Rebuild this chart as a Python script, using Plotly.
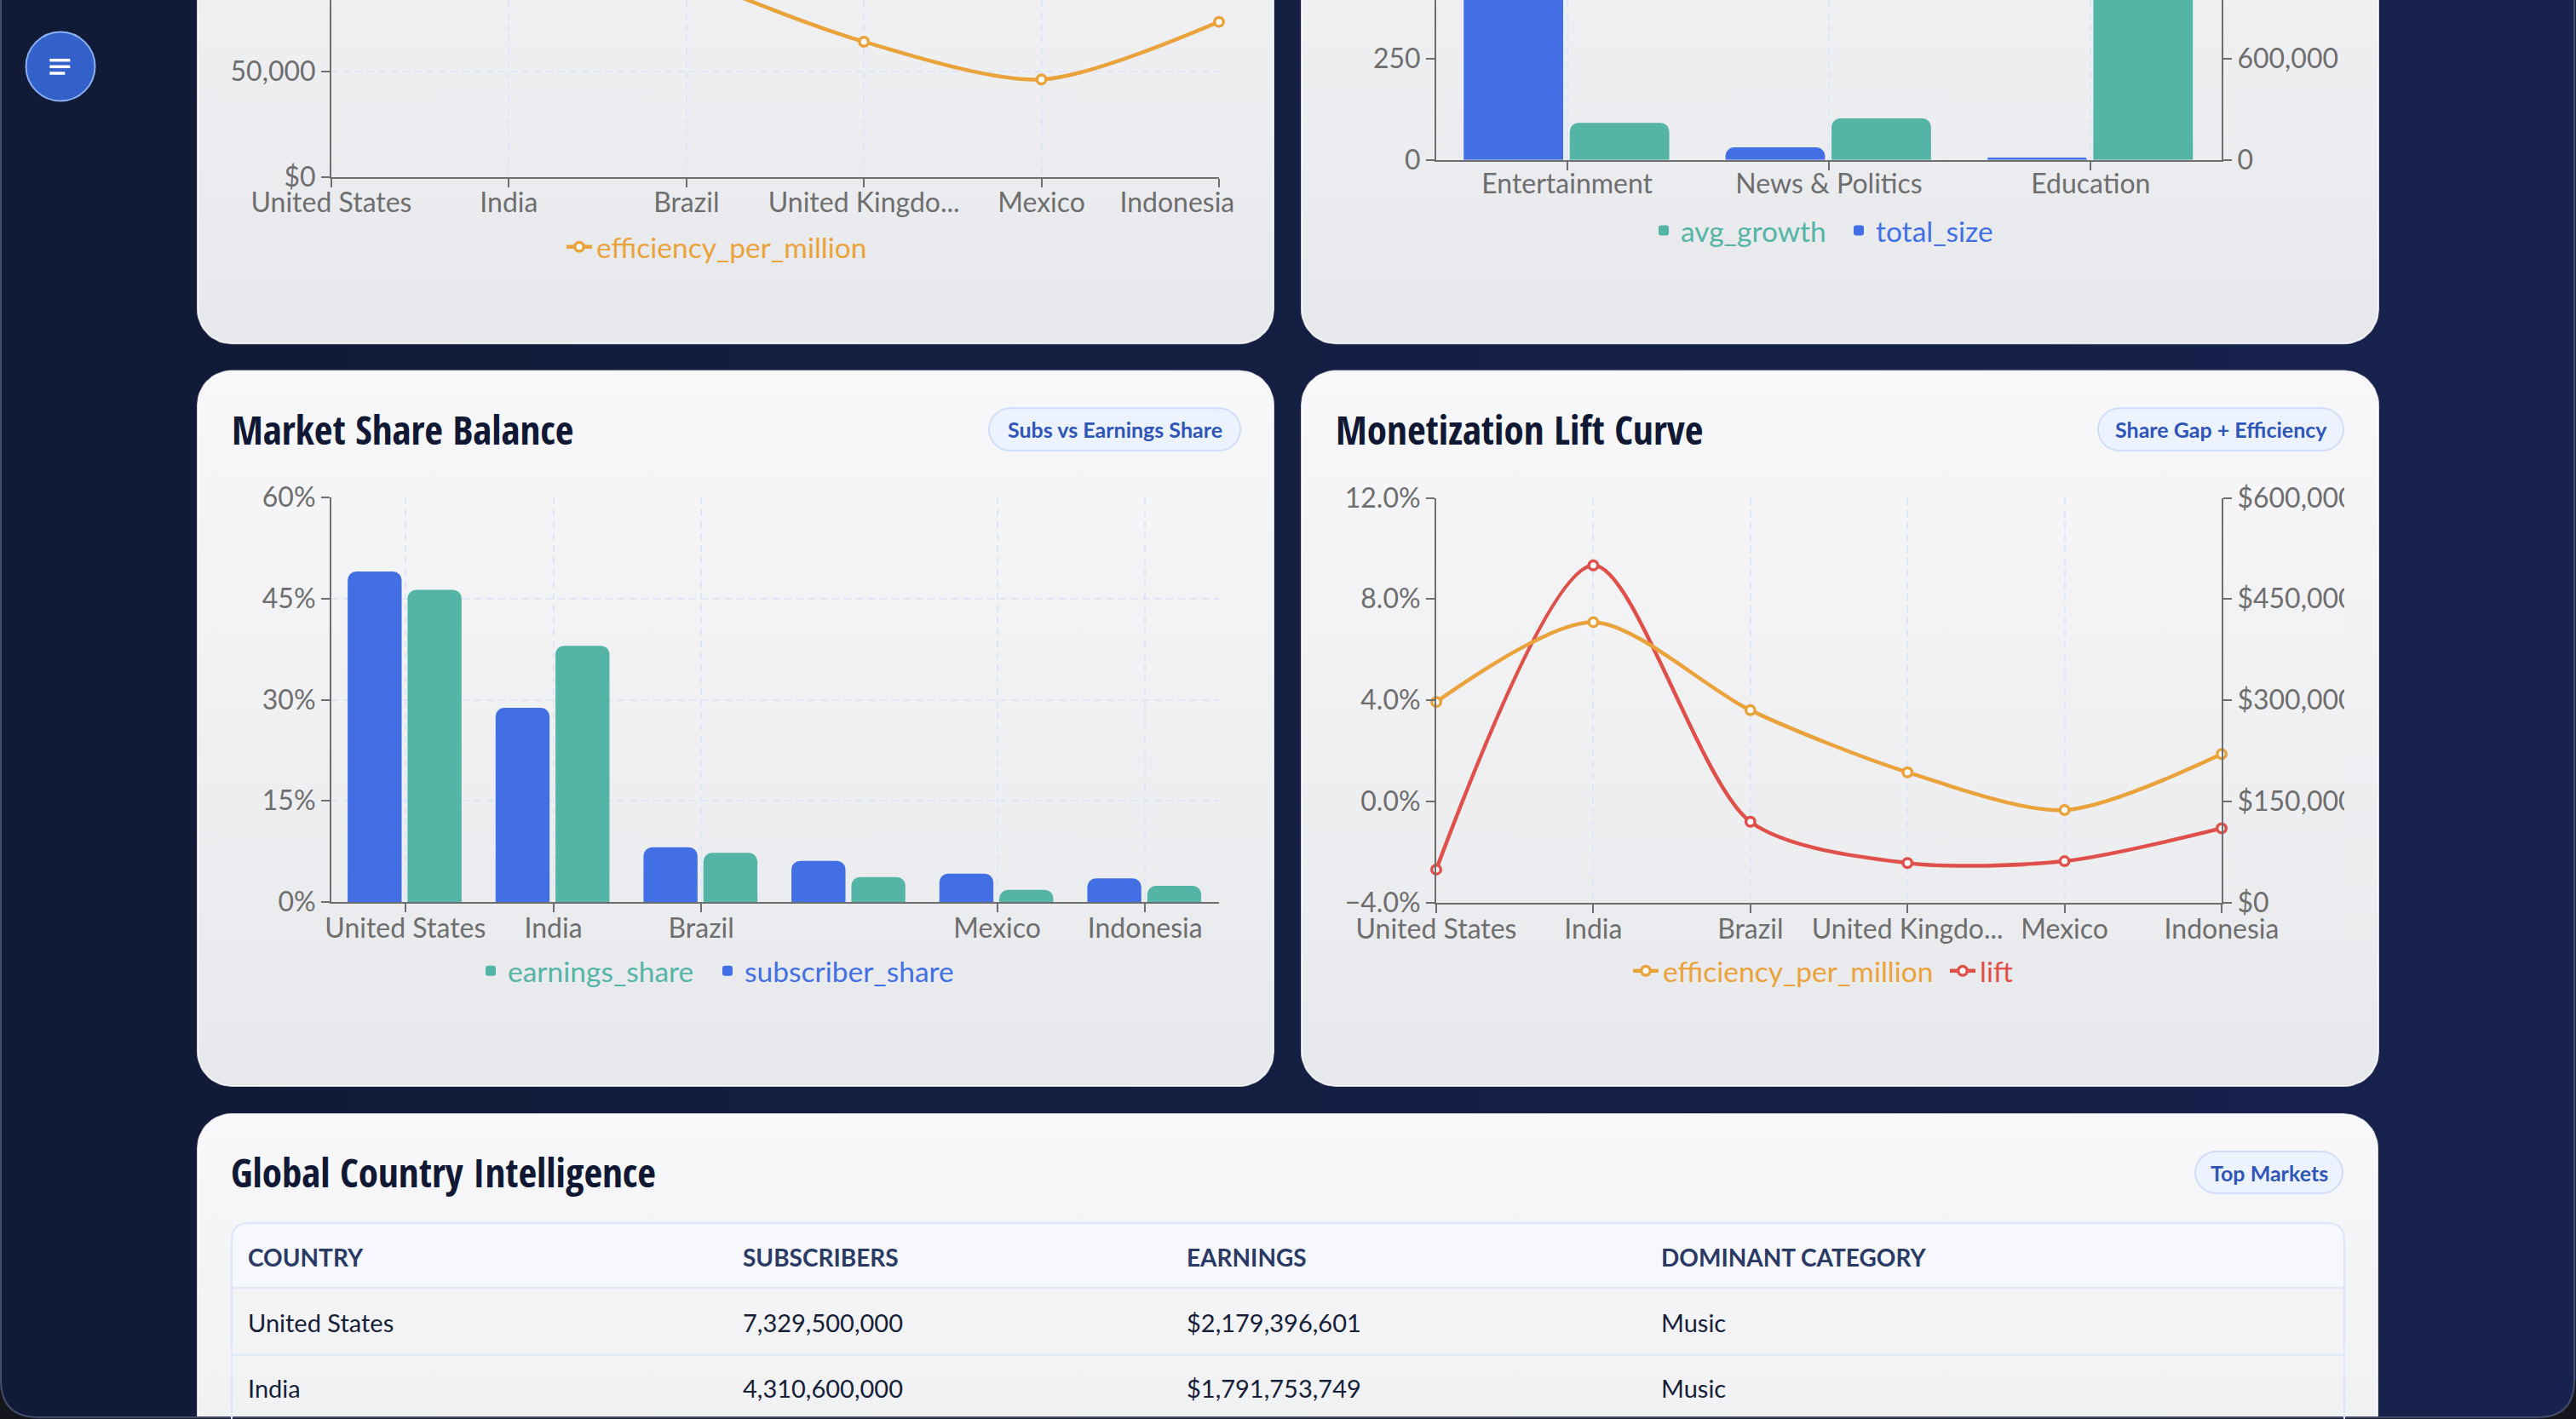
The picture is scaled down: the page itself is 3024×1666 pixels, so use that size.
import numpy as np
import plotly.graph_objects as go

W, H = 3024, 1666

# ---------------- data ----------------
countries = ["United States", "India", "Brazil", "United Kingdom", "Mexico", "Indonesia"]
subscriber_share = [49.0, 28.8, 8.1, 6.1, 4.2, 3.5]
earnings_share = [46.3, 38.0, 7.3, 3.7, 1.8, 2.4]
lift = [-2.70, 9.33, -0.81, -2.44, -2.37, -1.07]
efficiency_per_million = [297300, 415700, 285000, 193000, 137000, 220000]

top_efficiency_per_million = [100000, 140000, 96000, 64000, 46100, 73400]
top_efficiency_tickvals = [0, 50000, 100000]
top_efficiency_ticktext = ["$0", "50,000", "100,000"]

categories = ["Entertainment", "News & Politics", "Education"]
avg_growth = [91.4, 102.6, 620.0]
total_size = [1480000, 74300, 13600]

table_headers = ["COUNTRY", "SUBSCRIBERS", "EARNINGS", "DOMINANT CATEGORY"]
table_country = ["United States", "India"]
table_subscribers = [7329500000, 4310600000]
table_earnings = [2179396601, 1791753749]
table_category = ["Music", "Music"]

# ---------------- style ----------------
AX = "#6e6e6e"
GRID = "#dde5f7"
FONT = "Lato, 'Noto Sans', sans-serif"
TFONT = "'Open Sans Condensed', 'Roboto Condensed', sans-serif"
BLUE = "#4270e4"
GREEN = "#54b5a6"
ORANGE = "#eaa23a"
RED = "#e0504b"
CARD_TOP = "#f8f8fa"
CARD_BOT = "#e7e8eb"


def fx(px):
    return px / W


def fy(py):
    return 1 - py / H


def short(label):
    return label if len(label) <= 13 else label[:13] + "..."


def hexrgb(c):
    c = c.lstrip("#")
    return [int(c[i:i + 2], 16) for i in (0, 2, 4)]


def lerp_color(c0, c1, t):
    a, b = hexrgb(c0), hexrgb(c1)
    return "rgb(%d,%d,%d)" % tuple(round(a[i] + (b[i] - a[i]) * t) for i in range(3))


def rrect_pts(x0, y0, x1, y1, r, n=14):
    xs, ys = [], []
    corners = [(x1 - r, y0 + r, -90, 0), (x1 - r, y1 - r, 0, 90),
               (x0 + r, y1 - r, 90, 180), (x0 + r, y0 + r, 180, 270)]
    for cx, cy, a0, a1 in corners:
        for t in np.linspace(a0, a1, n):
            a = np.radians(t)
            xs.append(cx + r * np.cos(a))
            ys.append(cy + r * np.sin(a))
    xs.append(xs[0])
    ys.append(ys[0])
    return xs, ys


def top_round_pts(x0, y0, x1, y1, r, n=10):
    xs, ys = [x0], [y1]
    for cx, cy, a0, a1 in [(x0 + r, y0 + r, 180, 270), (x1 - r, y0 + r, 270, 360)]:
        for t in np.linspace(a0, a1, n):
            a = np.radians(t)
            xs.append(cx + r * np.cos(a))
            ys.append(cy + r * np.sin(a))
    xs += [x1, x0]
    ys += [y1, y1]
    return xs, ys


def rrect_path(x0, y0, x1, y1, r, n=14):
    xs, ys = rrect_pts(x0, y0, x1, y1, r, n)
    return "M" + " L".join("%.1f,%.1f" % (a, b) for a, b in zip(xs, ys)) + " Z"


def top_round_path(x0, y0, x1, y1, r):
    return "M%.1f,%.1f L%.1f,%.1f Q%.1f,%.1f %.1f,%.1f L%.1f,%.1f Q%.1f,%.1f %.1f,%.1f L%.1f,%.1f" % (
        x0, y1, x0, y0 + r, x0, y0, x0 + r, y0, x1 - r, y0, x1, y0, x1, y0 + r, x1, y1)


fig = go.Figure()

# ---------------- page + cards (background subplot in pixel units) ----------------
fig.add_trace(go.Scatter(
    x=[0, W, W, 0, 0], y=[0, 0, H, H, 0], xaxis="x", yaxis="y", mode="lines",
    fill="toself", line=dict(width=0, color="rgba(0,0,0,0)"),
    fillgradient=dict(type="horizontal", colorscale=[[0, "#111a36"], [1, "#17234e"]], start=0, stop=W),
    hoverinfo="skip", showlegend=False))

cards = [
    (232, -436, 1495, 403.3),
    (1528, -436, 2792, 403.3),
    (232, 435.5, 1495, 1275),
    (1528, 435.5, 2792, 1275),
    (232, 1308, 2791, 2147),
]
for (x0, y0, x1, y1) in cards:
    xs, ys = rrect_pts(x0, y0, x1, y1, 40)
    fig.add_trace(go.Scatter(
        x=xs, y=ys, xaxis="x", yaxis="y", mode="lines", fill="toself",
        line=dict(color="rgba(255,255,255,0.8)", width=2),
        fillgradient=dict(type="vertical", colorscale=[[0, CARD_TOP], [1, CARD_BOT]], start=y0, stop=y1),
        hoverinfo="skip", showlegend=False))

# table header band (behind the table text)
hx, hy = top_round_pts(272, 1436, 2752, 1512, 20)
fig.add_trace(go.Scatter(x=hx, y=hy, xaxis="x", yaxis="y", mode="lines", fill="toself",
                         fillcolor="#f6f8fd", line=dict(width=0, color="rgba(0,0,0,0)"),
                         hoverinfo="skip", showlegend=False))

# ---------------- top-left: efficiency line ----------------
LINE_W = 4.5
SMOOTH = 0.8
MK = dict(size=10.5, color="white")
fig.add_trace(go.Scatter(
    x=countries, y=top_efficiency_per_million, xaxis="x2", yaxis="y2",
    mode="lines+markers", name="efficiency_per_million",
    line=dict(color=ORANGE, width=LINE_W, shape="spline", smoothing=SMOOTH),
    marker=dict(MK, line=dict(color=ORANGE, width=3.5)),
    cliponaxis=False, legend="legend", hoverinfo="skip"))

# ---------------- top-right: category bars ----------------
fig.add_trace(go.Bar(
    x=categories, y=total_size, xaxis="x3", yaxis="y4", name="total_size",
    marker=dict(color=BLUE, cornerradius=10, line=dict(width=0)),
    offset=-0.395, width=0.38, legend="legend3", hoverinfo="skip"))
fig.add_trace(go.Bar(
    x=categories, y=avg_growth, xaxis="x3", yaxis="y3", name="avg_growth",
    marker=dict(color=GREEN, cornerradius=10, line=dict(width=0)),
    offset=0.01, width=0.38, legend="legend2", hoverinfo="skip"))

# ---------------- middle-left: market share bars ----------------
fig.add_trace(go.Bar(
    x=countries, y=subscriber_share, xaxis="x5", yaxis="y5", name="subscriber_share",
    marker=dict(color=BLUE, cornerradius=10, line=dict(width=0)),
    offset=-0.39, width=0.365, legend="legend5", hoverinfo="skip"))
fig.add_trace(go.Bar(
    x=countries, y=earnings_share, xaxis="x5", yaxis="y5", name="earnings_share",
    marker=dict(color=GREEN, cornerradius=10, line=dict(width=0)),
    offset=0.015, width=0.365, legend="legend4", hoverinfo="skip"))

# ---------------- middle-right: lift curve ----------------
fig.add_trace(go.Scatter(
    x=countries, y=lift, xaxis="x6", yaxis="y6", mode="lines+markers", name="lift",
    line=dict(color=RED, width=LINE_W, shape="spline", smoothing=SMOOTH),
    marker=dict(MK, line=dict(color=RED, width=3.5)),
    cliponaxis=False, legend="legend7", hoverinfo="skip"))
fig.add_trace(go.Scatter(
    x=countries, y=efficiency_per_million, xaxis="x6", yaxis="y7", mode="lines+markers",
    name="efficiency_per_million",
    line=dict(color=ORANGE, width=LINE_W, shape="spline", smoothing=SMOOTH),
    marker=dict(MK, line=dict(color=ORANGE, width=3.5)),
    cliponaxis=False, legend="legend6", hoverinfo="skip"))

# ---------------- table ----------------
def nb(s):
    return str(s).replace(" ", "\u00a0")


header_vals = [nb(h) for h in table_headers] + [""]
cell_vals = [
    [nb(c) for c in table_country],
    ["{:,}".format(v) for v in table_subscribers],
    ["${:,}".format(v) for v in table_earnings],
    [nb(c) for c in table_category],
    ["" for _ in table_country],
]
fig.add_trace(go.Table(
    domain=dict(x=[fx(283), 1.0], y=[0, fy(1458)]),
    columnwidth=[581, 521, 557, 810, 272],
    header=dict(values=header_vals, height=76, align="left",
                fill=dict(color="rgba(0,0,0,0)"), line=dict(width=0, color="rgba(0,0,0,0)"),
                font=dict(family=FONT, size=28, color="#2a3a64", weight=700)),
    cells=dict(values=cell_vals, height=77.5, align="left",
               fill=dict(color="rgba(0,0,0,0)"), line=dict(width=0, color="rgba(0,0,0,0)"),
               font=dict(family=FONT, size=29, color="#161e38")),
))

# ---------------- axes ----------------
tickfont = dict(family=FONT, size=32, color=AX)
base = dict(showline=True, linecolor=AX, linewidth=2, ticks="outside", ticklen=10, tickwidth=2,
            tickcolor=AX, tickfont=tickfont, zeroline=False, fixedrange=True,
            gridcolor=GRID, gridwidth=2, griddash="8px,6px", tickangle=0, automargin=False)

# the last label of the top-left chart sits inside the card, as in the dashboard
top_left_ticktext = [short(c) for c in countries]
top_left_ticktext[-1] = top_left_ticktext[-1] + "\u00a0" * 12

layout_axes = dict(
    xaxis=dict(domain=[0, 1], range=[0, W], visible=False, fixedrange=True),
    yaxis=dict(domain=[0, 1], range=[H, 0], visible=False, fixedrange=True),
    # top-left
    xaxis2=dict(base, domain=[fx(389), fx(1431)], anchor="y2", type="category", range=[0, 5],
                tickmode="array", tickvals=countries, ticktext=top_left_ticktext,
                showgrid=True, ticklabelstandoff=-9),
    yaxis2=dict(base, domain=[fy(207.7), 1], anchor="x2", range=[0, 83750],
                tickmode="array", tickvals=top_efficiency_tickvals, ticktext=top_efficiency_ticktext, showgrid=True),
    # top-right
    xaxis3=dict(base, domain=[fx(1686), fx(2608)], anchor="y3", type="category", range=[-0.5, 2.5],
                tickmode="array", tickvals=categories, ticktext=categories, showgrid=True,
                ticklabelstandoff=-11),
    yaxis3=dict(base, domain=[fy(187.7), 1], anchor="x3", range=[0, 395.3], dtick=250, showgrid=False),
    yaxis4=dict(base, overlaying="y3", side="right", anchor="x3", range=[0, 948800], dtick=600000,
                tickformat=",d", showgrid=False),
    # middle-left
    xaxis5=dict(base, domain=[fx(389), fx(1431)], anchor="y5", type="category", range=[-0.5, 5.5],
                tickmode="array", tickvals=[c for c in countries if c != "United Kingdom"],
                ticktext=[c for c in countries if c != "United Kingdom"], showgrid=True,
                ticklabelstandoff=-8),
    yaxis5=dict(base, domain=[fy(1059), fy(584)], anchor="x5", range=[0, 60], dtick=15,
                ticksuffix="%", showgrid=True),
    # middle-right
    xaxis6=dict(base, domain=[fx(1686), fx(2608)], anchor="y6", type="category", range=[0, 5],
                tickmode="array", tickvals=countries, ticktext=[short(c) for c in countries],
                showgrid=True, ticklabelstandoff=-8),
    yaxis6=dict(base, domain=[fy(1059.5), fy(584.5)], anchor="x6", range=[-4, 12], dtick=4,
                tickformat=".1f", ticksuffix="%", showgrid=False),
    yaxis7=dict(base, overlaying="y6", side="right", anchor="x6", range=[0, 600000], dtick=150000,
                tickprefix="$", tickformat=",d", showgrid=False),
)


def leg(text_start, ypx, color):
    return dict(x=fx(text_start - 40), xanchor="left", y=fy(ypx), yanchor="middle",
                orientation="h", bgcolor="rgba(0,0,0,0)", borderwidth=0,
                font=dict(family=FONT, size=33.5, color=color))


legends = dict(
    legend=leg(700, 290, ORANGE),
    legend2=leg(1973, 270.7, GREEN),
    legend3=leg(2202, 270.7, BLUE),
    legend4=leg(596, 1140, GREEN),
    legend5=leg(874, 1140, BLUE),
    legend6=leg(1952, 1140, ORANGE),
    legend7=leg(2324, 1140, RED),
)

# ---------------- shapes ----------------
shapes = []
shapes.append(dict(type="path", xref="x", yref="y", layer="above",
                   path="M0,1620 L1,1620 Q1,1664 45,1664 L2979,1664 Q3022,1664 3022,1620 L3024,1620 L3024,1666 L0,1666 Z",
                   fillcolor="#15161c", line=dict(width=0)))
shapes.append(dict(type="path", xref="x", yref="y", layer="above",
                   path="M1,-10 L1,1620 Q1,1664 45,1664 L2979,1664 Q3022,1664 3022,1620 L3022,-10",
                   line=dict(color="#454d6c", width=2)))
shapes.append(dict(type="circle", xref="x", yref="y", layer="above", x0=30.5, x1=111.5, y0=37.5, y1=118.5,
                   fillcolor="#3461c9", line=dict(color="#8cb0f0", width=2)))
for (xa, xb, yy) in [(58.3, 82.3, 70.7), (58.3, 82.3, 78.3), (58.3, 76.3, 86.0)]:
    shapes.append(dict(type="line", xref="x", yref="y", layer="above", x0=xa, x1=xb, y0=yy, y1=yy,
                       line=dict(color="white", width=3.5)))
badges = [(1161, 479.3, 1456, 529, "Subs vs Earnings Share"),
          (2463, 479.3, 2751, 529, "Share Gap + Efficiency"),
          (2577, 1352, 2750, 1401, "Top Markets")]
for (x0, y0, x1, y1, _) in badges:
    shapes.append(dict(type="path", xref="x", yref="y", layer="above",
                       path=rrect_path(x0, y0, x1, y1, (y1 - y0) / 2),
                       fillcolor="#ecf2fe", line=dict(color="#d0ddf8", width=2)))
for yy in [1512, 1590.5]:
    shapes.append(dict(type="line", xref="x", yref="y", layer="above", x0=272, x1=2752, y0=yy, y1=yy,
                       line=dict(color="#e0e8f8", width=2.5)))
shapes.append(dict(type="path", xref="x", yref="y", layer="above",
                   path=top_round_path(272, 1436, 2752, 1700, 20),
                   line=dict(color="#dde6f8", width=2)))
shapes.append(dict(type="line", xref="x5 domain", yref="y5 domain", layer="below", x0=1, x1=1, y0=0, y1=1,
                   line=dict(color=GRID, width=2, dash="8px,6px")))
shapes.append(dict(type="line", xref="x6 domain", yref="y6 domain", layer="below", x0=0, x1=1, y0=1, y1=1,
                   line=dict(color=GRID, width=2, dash="8px,6px")))
nb_bands = 18
ytop, ybot = 560, 1100
for i in range(nb_bands):
    a = ytop + (ybot - ytop) * i / nb_bands
    b = ytop + (ybot - ytop) * (i + 1) / nb_bands
    t = ((a + b) / 2 - 435.5) / (1275 - 435.5)
    shapes.append(dict(type="rect", xref="x", yref="y", layer="above", x0=2752, x1=2788, y0=a, y1=b + 0.5,
                       fillcolor=lerp_color(CARD_TOP, CARD_BOT, t), line=dict(width=0)))

# ---------------- annotations ----------------
annotations = []
for (xx, yy, txt) in [(270, 503.5, "Market Share Balance"), (1566, 503.5, "Monetization Lift Curve"),
                      (269, 1375.5, "Global Country Intelligence")]:
    annotations.append(dict(x=xx, y=yy, xref="x", yref="y", xanchor="left", yanchor="middle",
                            text=txt, showarrow=False,
                            font=dict(family=TFONT, size=47, color="#101833", weight=700)))
for (x0, y0, x1, y1, txt) in badges:
    annotations.append(dict(x=(x0 + x1) / 2, y=(y0 + y1) / 2, xref="x", yref="y", xanchor="center",
                            yanchor="middle", text=txt, showarrow=False,
                            font=dict(family=FONT, size=25, color="#2f55b8", weight=700)))

fig.update_layout(
    width=W, height=H, margin=dict(l=0, r=0, t=0, b=0, pad=0, autoexpand=False),
    paper_bgcolor="#131d40", plot_bgcolor="rgba(0,0,0,0)",
    barmode="overlay", hovermode=False, showlegend=True,
    shapes=shapes, annotations=annotations,
    **layout_axes, **legends)

fig.write_html("out.html")
